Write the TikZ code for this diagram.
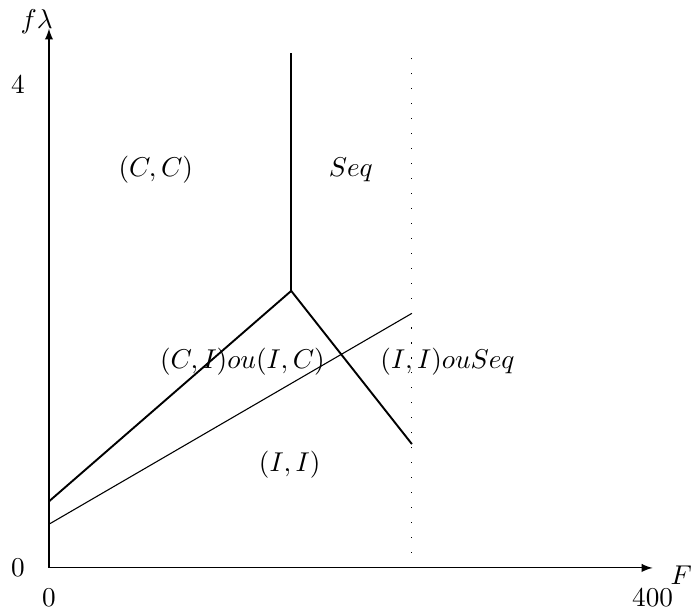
\documentclass[tikz,border=0pt]{standalone}
\usepackage{amsmath,amssymb}
\usepackage{tikz}
\usetikzlibrary{positioning,arrows,arrows.meta,calc}

\begin{document}
\begin{tikzpicture}[
    >=latex,
    frontiere/.style={line width=0.7pt},
    droite/.style={line width=0.4pt},
    seuil/.style={line width=0.4pt, dash pattern=on 0.4pt off 5.1pt},
    zone/.style={font=\normalsize}
]
\useasboundingbox (-0.633,-0.569) rectangle (8.296,7.339);

% axes
\coordinate (O) at (0,0);
\coordinate (xend) at (7.80,0);
\coordinate (yend) at (0,6.97);
\draw[->] (O) -- (xend);
\draw[->] (O) -- (yend);

\node (labF) at (8.17,-0.10) {$F$};
\node (labY) at (-0.16,7.06) {$f\lambda$};
\node (x0) at (0,-0.39) {$0$};
\node (x400) at (7.80,-0.39) {$400$};
\node (y0) at (-0.40,0) {$0$};
\node (y4) at (-0.40,6.24) {$4$};

% frontieres
\coordinate (junc) at (3.13,3.58);
\coordinate (top) at (3.13,6.65);
\coordinate (left) at (0,0.86);
\coordinate (right) at (4.69,1.60);
\draw[frontiere] (left) -- (junc) -- (right);
\draw[frontiere] (junc) -- (top);

% droite fine
\coordinate (dleft) at (0,0.565);
\coordinate (dright) at (4.69,3.29);
\draw[droite] (dleft) -- (dright);

% seuil en pointilles
\coordinate (sbot) at (4.69,0);
\coordinate (stop) at (4.69,6.65);
\draw[seuil] (sbot) -- (stop);

% regions
\node[zone] (cc) at (1.38,5.14) {$(C,C)$};
\node[zone] (seq) at (3.90,5.14) {$Seq$};
\node[zone] (ci) at (2.50,2.66) {$(C,I) ou (I,C)$};
\node[zone] (iiseq) at (5.15,2.66) {$(I,I) ou Seq$};
\node[zone] (ii) at (3.11,1.33) {$(I,I)$};

\end{tikzpicture}
\end{document}
